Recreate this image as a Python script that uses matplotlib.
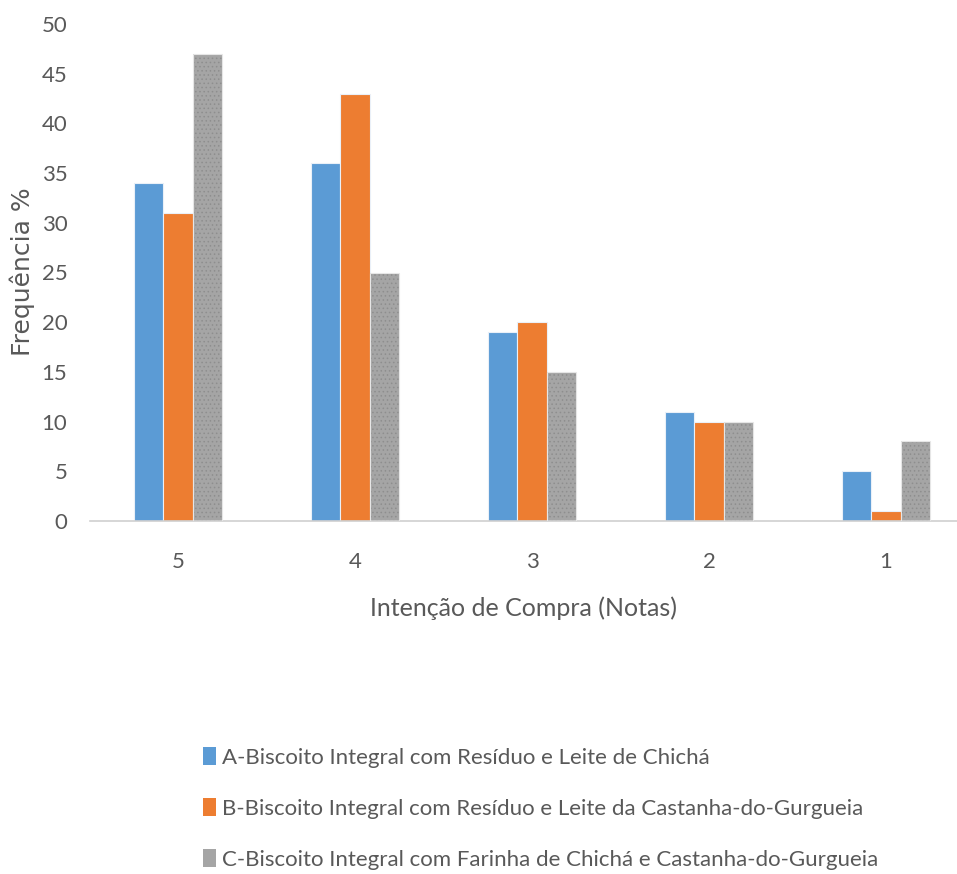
import numpy as np
import matplotlib
matplotlib.use("Agg")
import matplotlib.pyplot as plt
from matplotlib.patches import Patch

plt.rcParams['font.family'] = ['Lato', 'DejaVu Sans']
plt.rcParams['hatch.linewidth'] = 0.6

NOTAS = ["5", "4", "3", "2", "1"]
SERIES = [
    "A-Biscoito Integral com Resíduo e Leite de Chichá",
    "B-Biscoito Integral com Resíduo e Leite da Castanha-do-Gurgueia",
    "C-Biscoito Integral com Farinha de Chichá e Castanha-do-Gurgueia",
]
freq_a = [34, 36, 19, 11, 5]
freq_b = [31, 43, 20, 10, 1]
freq_c = [47, 25, 15, 10, 8]
COLOURS = ["#5B9BD5", "#ED7D31", "#A5A5A5"]
TEXT = "#595959"

fig = plt.figure(figsize=(9.57, 8.74), dpi=100)
ax = fig.add_axes([89.5 / 957, 1 - 521 / 874, 1 - 89.5 / 957, (521 - 24) / 874])

x = np.arange(len(NOTAS))
w = 0.164
for i, (vals, col) in enumerate(zip([freq_a, freq_b, freq_c], COLOURS)):
    if i < 2:
        ax.bar(x + (i - 1) * w, vals, w, color=col, edgecolor="#EAF0F8",
               linewidth=0.8, zorder=2)
    else:
        # grey series: stippled fill plus light outline
        ax.bar(x + (i - 1) * w, vals, w, facecolor=col, edgecolor="#8E8E8E",
               linewidth=0, hatch="....", zorder=2)
        ax.bar(x + (i - 1) * w, vals, w, fill=False, edgecolor="#E6E6E6",
               linewidth=0.8, zorder=3)

ax.set_xlim(-0.5, -0.5 + (957 - 89.5) / 177)
ax.set_ylim(0, 50)
ax.set_yticks(range(0, 51, 5))
ax.set_xticks(x)
ax.set_xticklabels(NOTAS)
ax.tick_params(axis="both", length=0, labelsize=16, colors=TEXT)
ax.tick_params(axis="x", pad=22)
ax.tick_params(axis="y", pad=16)
for side in ["top", "right", "left"]:
    ax.spines[side].set_visible(False)
ax.spines["bottom"].set_color("#D0D0D0")
ax.spines["bottom"].set_linewidth(1.2)

ax.set_xlabel("Intenção de Compra (Notas)", fontsize=18, color=TEXT, labelpad=18)
fig.text(22 / 957, 1 - 272 / 874, "Frequência %", rotation=90, fontsize=18,
         color=TEXT, ha="center", va="center", family=['DejaVu Sans'])

handles = [Patch(facecolor=c, edgecolor="none", hatch="...." if k == 2 else None)
           for k, c in enumerate(COLOURS)]
leg = fig.legend(handles, SERIES, loc="upper left", bbox_to_anchor=(183 / 957, 1 - 727 / 874),
                 frameon=False, fontsize=16, labelcolor=TEXT, handlelength=0.6,
                 handleheight=0.9, handletextpad=0.25, labelspacing=1.35)

fig.savefig("out.png", dpi=100)
